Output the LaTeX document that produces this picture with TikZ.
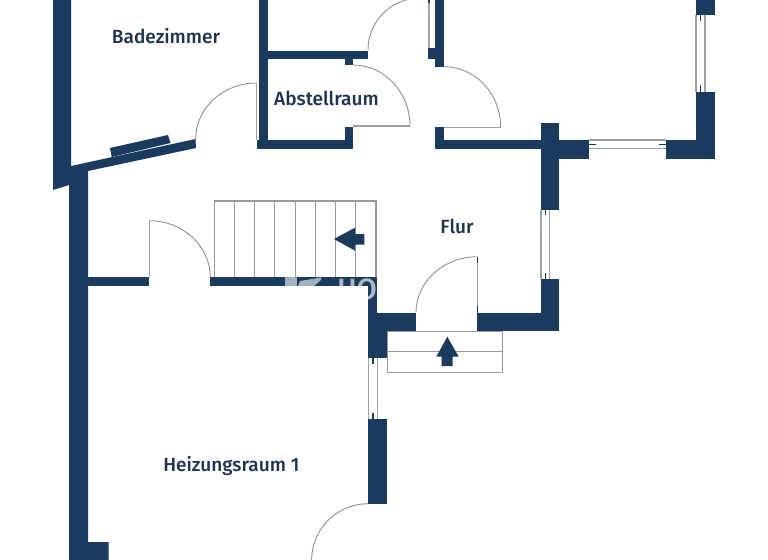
\documentclass[tikz,border=0pt]{standalone}
\usepackage{fontspec}
\setmainfont{Fira Sans}[UprightFont=* Medium]
\definecolor{wallc}{HTML}{1A3A5E}
\definecolor{linec}{HTML}{A0A0A0}
\definecolor{textc}{HTML}{1E3350}
\tikzset{
  x=0.75pt,y=-0.75pt,
  wall/.style={fill=wallc,draw=none},
  thinline/.style={draw=linec,line width=0.95pt},
  doorarc/.style={draw=gray!90,line width=0.65pt},
  leaf/.style={draw=linec,line width=1pt},
  stub/.style={draw=wallc,line width=1.1pt},
  stepline/.style={draw=gray!80,line width=0.8pt},
  room/.style={text=textc,font=\fontsize{14.3pt}{16pt}\selectfont,inner sep=0pt,anchor=base}
}
\begin{document}
\begin{tikzpicture}
\useasboundingbox (0,0) rectangle (768,560);
\clip (0,0) rectangle (768,560);
\fill[white] (0,0) rectangle (768,560);
% outer left wall
\fill[wall] (53,0)--(71,0)--(71,166)--(195.5,139)--(196,148)--(88,171)--(88,542)--(108.5,542)--(108.5,560)--(69,560)--(69,185)--(53,190)--cycle;
\fill[wall] (110,148)--(168,135)--(170.5,143)--(111.7,157)--cycle;
% Abstellraum
\fill[wall] (259,0) rectangle (268,148);
\fill[wall] (257,140) rectangle (353,148.5);
\fill[wall] (345,126.7) rectangle (353,148.5);
\fill[wall] (268,50.7) rectangle (368,59.3);
\fill[wall] (345,59) rectangle (353,65);
% room top right
\fill[wall] (435.3,0) rectangle (444,66.7);
\fill[wall] (428.3,48) rectangle (436,59);
\fill[wall] (435.3,127.3) rectangle (444,148.5);
\fill[wall] (435.3,140) rectangle (541,148.5);
\fill[wall] (540.5,123.3) rectangle (559,210);
\fill[wall] (558,140) rectangle (589.3,158.7);
\fill[wall] (665.7,140) rectangle (714.7,158.7);
\fill[wall] (696,91.7) rectangle (714.7,158.7);
\fill[wall] (696,0) rectangle (714.7,15);
% Flur
\fill[wall] (540.5,279) rectangle (559,331.3);
\fill[wall] (477.3,312.7) rectangle (559,331.3);
\fill[wall] (368.3,312.7) rectangle (416,331.3);
\fill[wall] (368.3,277.3) rectangle (377.3,358);
\fill[wall] (368.3,331) rectangle (386.7,358);
\fill[wall] (210,277.3) rectangle (377.3,286);
\fill[wall] (88,277.3) rectangle (149.3,286);
\fill[wall] (368.3,419.3) rectangle (387,503.7);
% windows
\draw[thinline] (589,140)--(666,140) (589,148.6)--(666,148.6);
\draw[stub] (589,144.3)--(596,144.3) (659,144.3)--(666,144.3);
\draw[thinline] (696,15)--(696,91.7) (705,15)--(705,91.7);
\draw[stub] (700.5,15)--(700.5,21) (700.5,85)--(700.5,91.7);
\draw[thinline] (541,210)--(541,279) (549.5,210)--(549.5,279);
\draw[stub] (545.3,210)--(545.3,215) (545.3,273)--(545.3,279);
\draw[thinline] (368.8,358)--(368.8,419.3) (377.3,358)--(377.3,419.3);
\draw[stub] (372.8,358)--(372.8,364) (372.8,413)--(372.8,419.3);
\draw[leaf] (429,0)--(429,48);
\draw[stub] (429,0)--(429,3);
% doors
\draw[doorarc] (195.7,139) arc[start angle=180,end angle=90,x radius=61,y radius=-56];
\draw[leaf] (256.7,83)--(256.7,140);
\draw[doorarc] (368,50) arc[start angle=180,end angle=90,x radius=52,y radius=-52];
\draw[doorarc] (353,65) arc[start angle=90,end angle=0,x radius=57,y radius=-61];
\draw[leaf] (353,126)--(410,126);
\draw[doorarc] (444,66.7) arc[start angle=90,end angle=0,x radius=56.7,y radius=-60.6];
\draw[leaf] (444,127.3)--(500.7,127.3);
\draw[doorarc] (149.3,220.7) arc[start angle=90,end angle=0,x radius=61,y radius=-56.6];
\draw[leaf] (149.3,220.7)--(149.3,277.3);
\draw[doorarc] (416,312.7) arc[start angle=180,end angle=90,x radius=61.3,y radius=-56];
\draw[leaf] (477.3,256.7)--(477.3,312.7);
\draw[stub] (477.3,257)--(477.3,263) (477.3,306)--(477.3,312.7);
\draw[doorarc] (368.3,503.7) arc[start angle=90,end angle=180,x radius=56.7,y radius=-56.7];
% stairs
\draw[stepline] (214.3,277.3)--(214.3,201)--(376,201)--(376,277.3);
\foreach \i in {1,...,7}{\draw[stepline] ({214.3+\i*20.2},201)--({214.3+\i*20.2},277.3);}
\fill[wall] (334,239)--(355,227.7)--(355,234)--(364.3,234)--(364.3,244.7)--(355,244.7)--(355,250.7)--cycle;
% entrance
\draw[stepline] (416,331.3)--(477.3,331.3);
\draw[stepline] (387.3,331.3) rectangle (502.7,372.7);
\draw[stepline] (387.3,351.3)--(502.7,351.3);
\fill[wall] (447.3,336.7)--(458.7,356.7)--(452.7,356.7)--(452.7,366)--(441.7,366)--(441.7,356.7)--(436.3,356.7)--cycle;
% watermark, showing only over the wall
\fill[white,opacity=0.6] (285,277.3) rectangle (297,286);
\fill[white,opacity=0.6] (298,286)--(300,281)--(312,279)--(321,277.3)--(321,280)--(314,286)--cycle;
\node[text=white,opacity=0.65,font=\fontsize{22pt}{24pt}\selectfont,inner sep=0pt,anchor=base] (wm) at (357,299) {HO};
% labels
\node[room] (bad) at (166,43.3) {Badezimmer};
\node[room] (abs) at (326.5,106) {Abstellraum};
\node[room] (flur) at (457,233) {Flur};
\node[room] (hzg) at (231.3,471) {Heizungsraum 1};
\end{tikzpicture}
\end{document}
